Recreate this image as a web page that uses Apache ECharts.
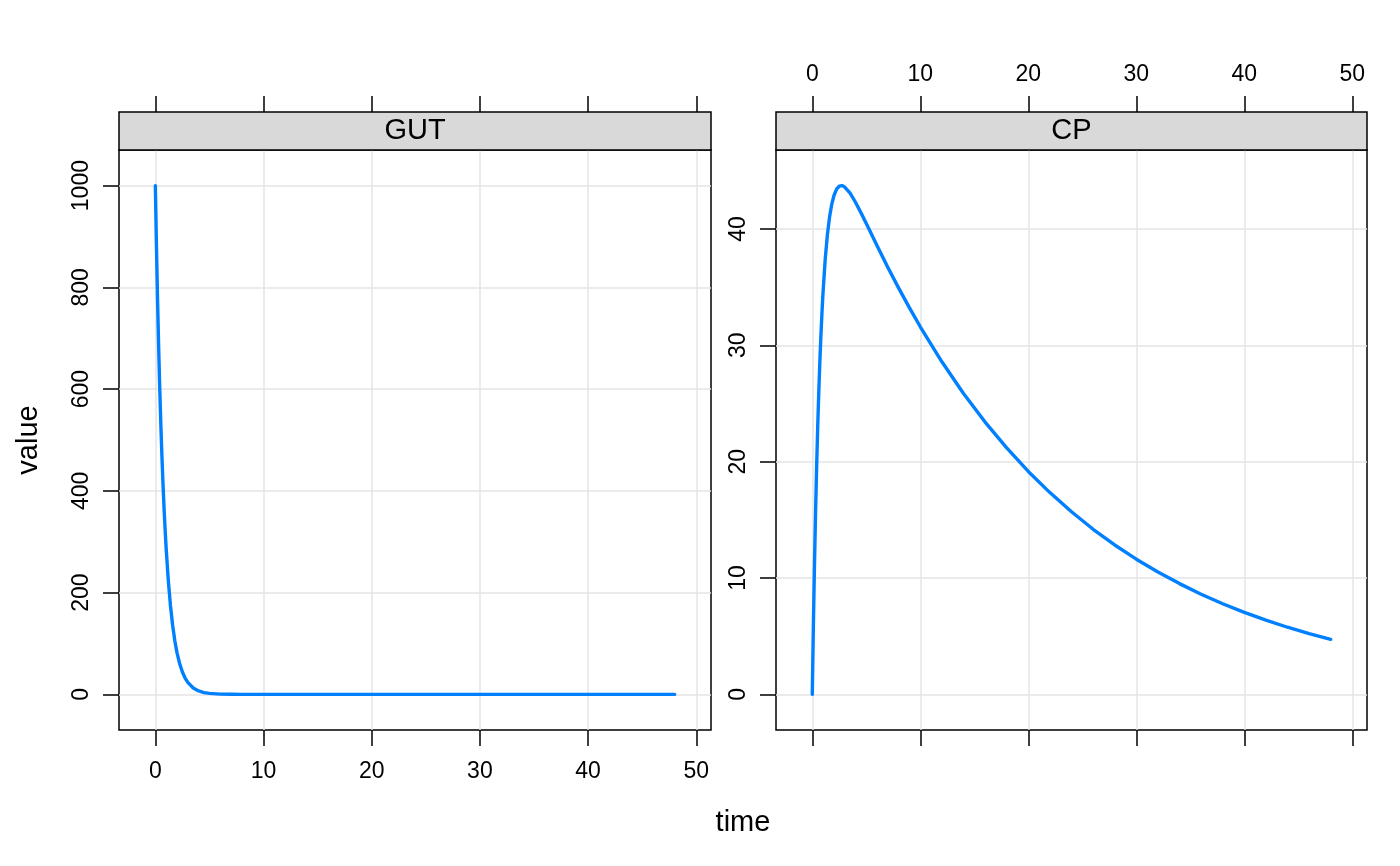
<!DOCTYPE html>
<html><head><meta charset="utf-8">
<script src="https://cdn.jsdelivr.net/npm/echarts@6/dist/echarts.min.js"></script>
<style>html,body{margin:0;padding:0;background:#fff}#c{width:1400px;height:866px}</style>
</head><body><div id="c"></div>
<script>
// ---- data ----
const panels = ['GUT', 'CP'];
const times = [0, 0.1, 0.2, 0.3, 0.4, 0.5, 0.6, 0.7, 0.8, 0.9, 1,
  1.2, 1.4, 1.6, 1.8, 2, 2.25, 2.5, 2.75, 3, 3.5, 4, 4.5, 5,
  6, 7, 8, 9, 10, 12, 14, 16, 18, 20, 22, 24, 26, 28, 30, 32, 34, 36, 38, 40, 42, 44, 46, 48];
const gut = [1000, 882.5, 778.8, 687.3, 606.5, 535.3, 472.4, 416.9, 367.9, 324.7, 286.5,
  223.1, 173.8, 135.3, 105.4, 82.1, 60.1, 43.9, 32.1, 23.5, 12.6, 6.7, 3.6, 1.9,
  0.55, 0.16, 0.05, 0.01, 0, 0, 0, 0, 0, 0, 0, 0, 0, 0, 0, 0, 0, 0, 0, 0, 0, 0, 0, 0];
const cp = [0, 5.86, 11.0, 15.51, 19.46, 22.92, 25.94, 28.58, 30.88, 32.88, 34.62,
  37.43, 39.51, 41.03, 42.11, 42.85, 43.41, 43.68, 43.72, 43.60, 43.07, 42.29, 41.40, 40.46,
  38.56, 36.69, 34.91, 33.21, 31.59, 28.58, 25.86, 23.40, 21.18, 19.16, 17.34, 15.69, 14.19,
  12.84, 11.62, 10.52, 9.52, 8.61, 7.79, 7.05, 6.38, 5.77, 5.22, 4.73];
const xTicks = [0, 10, 20, 30, 40, 50];
const gutTicks = [0, 200, 400, 600, 800, 1000];
const cpTicks = [0, 10, 20, 30, 40];
const xTitle = 'time';
const yTitle = 'value';

// ---- layout ----
function padRange(vals) {
  const lo = Math.min(...vals), hi = Math.max(...vals);
  const p = 0.07 * (hi - lo);
  return [lo - p, hi + p];
}
const xr = padRange(times), yr1 = padRange(gut), yr2 = padRange(cp);

const W = 1400, H = 866;
const grids = [
  { left: 119, right: W - 711, top: 150, bottom: H - 730 },
  { left: 776, right: W - 1367, top: 150, bottom: H - 730 }
];
const stripH = 38;
const FONT = 'Liberation Sans';
const TICKFS = 23, TITLEFS = 29;
const BLACK = '#000';
const GRIDCOL = '#e5e5e5';
const LINECOL = '#0080ff';

function tick(vals) {
  return { show: true, length: 16, customValues: vals, lineStyle: { color: BLACK, width: 1.5 } };
}
function label(vals, show, extra) {
  return Object.assign({ show: show, customValues: vals, color: BLACK, fontFamily: FONT, fontSize: TICKFS,
    formatter: v => String(v) }, extra || {});
}

const xAxes = [];
const yAxes = [];
const yRanges = [yr1, yr2];
const yTickSets = [gutTicks, cpTicks];
grids.forEach((g, i) => {
  // bottom axis
  xAxes.push({
    type: 'value', gridIndex: i, position: 'bottom', min: xr[0], max: xr[1],
    axisLine: { show: false, onZero: false },
    axisTick: tick(xTicks),
    axisLabel: label(xTicks, i === 0, { margin: 30 }),
    splitLine: { show: true, lineStyle: { color: GRIDCOL, width: 1.5 } }
  });
  // top axis (above strip)
  xAxes.push({
    type: 'value', gridIndex: i, position: 'top', offset: stripH, min: xr[0], max: xr[1],
    axisLine: { show: false, onZero: false },
    axisTick: tick(xTicks),
    axisLabel: label(xTicks, i === 1, { margin: 26 }),
    splitLine: { show: false }
  });
  yAxes.push({
    type: 'value', gridIndex: i, position: 'left', min: yRanges[i][0], max: yRanges[i][1],
    axisLine: { show: false, onZero: false },
    axisTick: tick(yTickSets[i]),
    axisLabel: label(yTickSets[i], true, { rotate: 90, margin: 26 }),
    splitLine: { show: true, lineStyle: { color: GRIDCOL, width: 1.5 } }
  });
});

const seriesData = [gut, cp];
const series = seriesData.map((vals, i) => ({
  type: 'line', xAxisIndex: i * 2, yAxisIndex: i, showSymbol: false, clip: true,
  lineStyle: { color: LINECOL, width: 3.4, cap: 'round', join: 'round' }, itemStyle: { color: LINECOL },
  data: times.map((t, k) => [t, vals[k]]), z: 5
}));

const graphic = [];
grids.forEach((g, i) => {
  const w = W - g.left - g.right;
  graphic.push({
    type: 'rect', z: 20,
    shape: { x: g.left, y: g.top - stripH, width: w, height: stripH },
    style: { fill: '#d9d9d9', stroke: BLACK, lineWidth: 1.5 }
  });
  graphic.push({
    type: 'text', z: 21, x: g.left + w / 2, y: g.top - stripH / 2,
    style: { text: panels[i], fontFamily: FONT, fontSize: TITLEFS, fill: BLACK,
      align: 'center', verticalAlign: 'middle', textAlign: 'center', textVerticalAlign: 'middle' }
  });
});
const plotL = grids[0].left, plotR = W - grids[1].right;
const plotT = grids[0].top, plotB = H - grids[0].bottom;
graphic.push({
  type: 'text', z: 21, x: (plotL + plotR) / 2, y: 823,
  style: { text: xTitle, fontFamily: FONT, fontSize: TITLEFS, fill: BLACK,
    align: 'center', verticalAlign: 'middle', textAlign: 'center', textVerticalAlign: 'middle' }
});
graphic.push({
  type: 'text', z: 21, x: 29, y: (plotT + plotB) / 2, rotation: Math.PI / 2,
  style: { text: yTitle, fontFamily: FONT, fontSize: TITLEFS, fill: BLACK,
    align: 'center', verticalAlign: 'middle', textAlign: 'center', textVerticalAlign: 'middle' }
});

const chart = echarts.init(document.getElementById('c'), null, { renderer: 'canvas' });
chart.setOption({
  animation: false,
  backgroundColor: '#fff',
  grid: grids.map(g => Object.assign({ show: true, borderColor: BLACK, borderWidth: 1.5, backgroundColor: 'transparent', containLabel: false }, g)),
  xAxis: xAxes,
  yAxis: yAxes,
  series: series,
  graphic: graphic
});
</script>
</body></html>
